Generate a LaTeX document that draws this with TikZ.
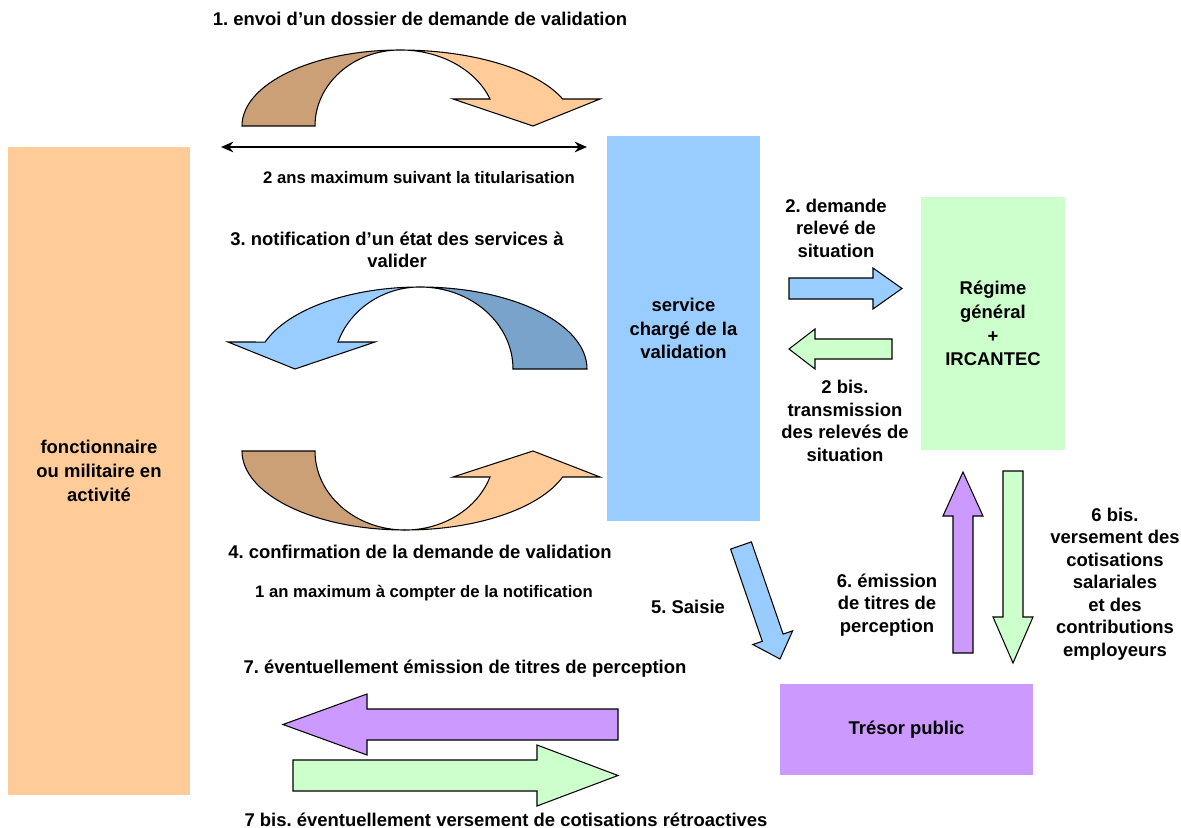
\documentclass[tikz,border=0pt]{standalone}
\usepackage{fontspec}
\setmainfont{Liberation Sans}
\usetikzlibrary{arrows.meta}
\frenchspacing
\definecolor{peche}{HTML}{FFCC99}
\definecolor{tan}{HTML}{CCA076}
\definecolor{ciel}{HTML}{99CCFF}
\definecolor{acier}{HTML}{7AA3CC}
\definecolor{menthe}{HTML}{CCFFCC}
\definecolor{lilas}{HTML}{CC99FF}
\begin{document}
\begin{tikzpicture}[x=0.02cm, y=-0.02cm, line cap=round, line join=round,
  box/.style={inner sep=0pt, align=center, font=\bfseries\fontsize{10.5pt}{13.5pt}\selectfont},
  lbl/.style={inner sep=0pt, align=center, font=\bfseries\fontsize{10.5pt}{12.8pt}\selectfont},
  petit/.style={inner sep=0pt, font=\bfseries\fontsize{9.5pt}{11pt}\selectfont},
  blk/.style={draw=black, line width=0.6pt, line join=miter}]
\useasboundingbox (0,0) rectangle (1181,828);
% les quatre acteurs
\node[box, fill=peche, minimum width=3.64cm, minimum height=12.96cm] (agent) at (99,471) {fonctionnaire\\ou militaire en\\activité};
\node[box, fill=ciel, minimum width=3.06cm, minimum height=7.7cm] (service) at (683.5,328.5) {service\\chargé de la\\validation};
\node[box, fill=menthe, minimum width=2.88cm, minimum height=5.06cm] (regime) at (993,323.5) {Régime\\général\\+\\IRCANTEC};
\node[box, fill=lilas, minimum width=5.06cm, minimum height=1.82cm] (tresor) at (906.5,729.5) {Trésor public};
% fleches courbes
\filldraw[blk, fill=tan] (242,126) arc[start angle=180, end angle=270, x radius=158, y radius=76]
  arc[start angle=270, end angle=180, x radius=85, y radius=76] -- cycle;
\filldraw[blk, fill=peche] (400,50) arc[start angle=270, end angle=339.2, x radius=174, y radius=76]
  -- (600,99) -- (533,126) -- (453,99) -- (490,99)
  arc[start angle=339.2, end angle=270, x radius=96, y radius=76] -- cycle;
\filldraw[blk, fill=acier] (587,369) arc[start angle=0, end angle=-90, x radius=167, y radius=82]
  arc[start angle=-90, end angle=0, x radius=93, y radius=82] -- cycle;
\filldraw[blk, fill=ciel] (420,287) arc[start angle=270, end angle=199.2, x radius=164, y radius=82]
  -- (228,342) -- (295,369) -- (375,342) -- (338,342)
  arc[start angle=199.2, end angle=270, x radius=87, y radius=82] -- cycle;
\filldraw[blk, fill=tan] (242,451) arc[start angle=180, end angle=90, x radius=163, y radius=79]
  arc[start angle=90, end angle=180, x radius=90, y radius=79] -- cycle;
\filldraw[blk, fill=peche] (405,530) arc[start angle=90, end angle=19.2, x radius=167, y radius=79]
  -- (600,477) -- (533,451) -- (453,477) -- (490,477)
  arc[start angle=19.2, end angle=90, x radius=90, y radius=79] -- cycle;
% fleches droites
\filldraw[blk, fill=ciel] (789,278) -- (873,278) -- (873,268) -- (902,288.5) -- (873,309) -- (873,299) -- (789,299) -- cycle;
\filldraw[blk, fill=menthe] (892,339) -- (815,339) -- (815,329) -- (789,349) -- (815,369) -- (815,359) -- (892,359) -- cycle;
\filldraw[blk, fill=ciel] (751.4,541.9) -- (783.1,634.1) -- (792.6,630.9) -- (780,659) -- (752.8,644.5) -- (762.3,641.3) -- (730.6,549.1) -- cycle;
\filldraw[blk, fill=lilas] (953,653) -- (953,516) -- (943,516) -- (963,472) -- (983,516) -- (973,516) -- (973,653) -- cycle;
\filldraw[blk, fill=menthe] (1003,471) -- (1003,617) -- (993,617) -- (1013,663) -- (1033,617) -- (1023,617) -- (1023,471) -- cycle;
\filldraw[blk, fill=lilas] (618,709) -- (367,709) -- (367,694) -- (283,724.5) -- (367,755) -- (367,740) -- (618,740) -- cycle;
\filldraw[blk, fill=menthe] (293,760) -- (537,760) -- (537,745) -- (618,775.5) -- (537,806) -- (537,791) -- (293,791) -- cycle;
% duree
\coordinate (dg) at (221,147);
\coordinate (dd) at (587,147);
\draw[line width=1.1pt, {Stealth[length=7pt,width=6pt]}-{Stealth[length=7pt,width=6pt]}] (dg) -- (dd);
% textes
\node[lbl] (t1) at (420,19) {1. envoi d’un dossier de demande de validation};
\node[petit] (t1d) at (419,178) {2 ans maximum suivant la titularisation};
\node[lbl] (t3) at (397,250) {3. notification d’un état des services à\\valider};
\node[lbl] (t4) at (420,552) {4. confirmation de la demande de validation};
\node[petit] (t4d) at (424,593) {1 an maximum à compter de la notification};
\node[lbl] (t5) at (688,607) {5. Saisie};
\node[lbl] (t7) at (465,669) {7. éventuellement émission de titres de perception};
\node[lbl] (t7b) at (506,820) {7 bis. éventuellement versement de cotisations rétroactives};
\node[lbl] (t2) at (836,228) {2. demande\\relevé de\\situation};
\node[lbl] (t2b) at (845,421) {2 bis.\\transmission\\des relevés de\\situation};
\node[lbl] (t6) at (887,605) {6. émission\\de titres de\\perception};
\node[lbl] (t6b) at (1115,584) {6 bis.\\versement des\\cotisations\\salariales\\et des\\contributions\\employeurs};
\end{tikzpicture}
\end{document}
